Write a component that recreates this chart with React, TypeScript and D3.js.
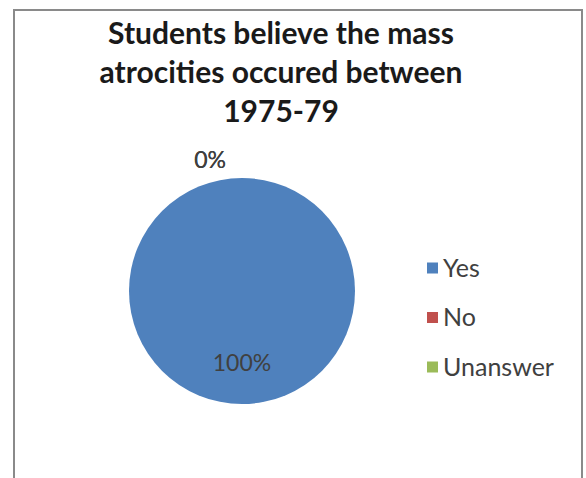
import React from "react";
import * as d3 from "d3";

const categories = ["Yes", "No", "Unanswer"];
const values = [100, 0, 0];
const labels = ["100%", "0%", "0%"];
const colors = ["#4F81BD", "#C0504D", "#9BBB59"];
const titleLines = ["Students believe the mass", "atrocities occured between", "1975-79"];

export default function App() {
  const W = 586, H = 478;
  const cx = 242, cy = 291, r = 113;
  const pie = d3.pie<number>().sort(null).value((d) => d)(values);
  const arc = d3.arc<any>().innerRadius(0).outerRadius(r);
  const labelArc = d3.arc<any>().innerRadius(r * 1.16).outerRadius(r * 1.16);
  const inner = d3.arc<any>().innerRadius(r * 0.64).outerRadius(r * 0.64);
  const font = "Lato, 'Open Sans', sans-serif";
  return (
    <svg width={W} height={H} style={{ position: "absolute", left: 0, top: 0, background: "#fff" }}>
      <rect x={14} y={10} width={568} height={480} fill="#fff" stroke="#8a8a8a" strokeWidth={2} />
      {titleLines.map((t, i) => (
        <text key={i} x={281} y={44 + i * 39} textAnchor="middle" fontFamily={font} fontWeight="bold" fontSize={30} fill="#1a1a1a">
          {t}
        </text>
      ))}
      <g transform={`translate(${cx},${cy})`}>
        {pie.map((p, i) => (
          <path key={i} d={arc(p) || ""} fill={colors[i]} />
        ))}
        {pie.map((p, i) => {
          const big = p.value > 0;
          const [x, y] = big ? inner.centroid(p) : labelArc.centroid({ ...p, endAngle: p.startAngle });
          return (
            <text key={"l" + i} x={big ? x : x - 16} y={y} dy="0.35em" textAnchor={big ? "middle" : "end"} fontFamily={font} fontSize={23} fill="#404040">
              {labels[i]}
            </text>
          );
        })}
      </g>
      {categories.map((c, i) => (
        <g key={c} transform={`translate(427,${268 + i * 49.5})`}>
          <rect x={0} y={-5.5} width={11} height={11} fill={colors[i]} />
          <text x={16} y={0} dy="0.35em" fontFamily={font} fontSize={25} fill="#404040">
            {c}
          </text>
        </g>
      ))}
    </svg>
  );
}
